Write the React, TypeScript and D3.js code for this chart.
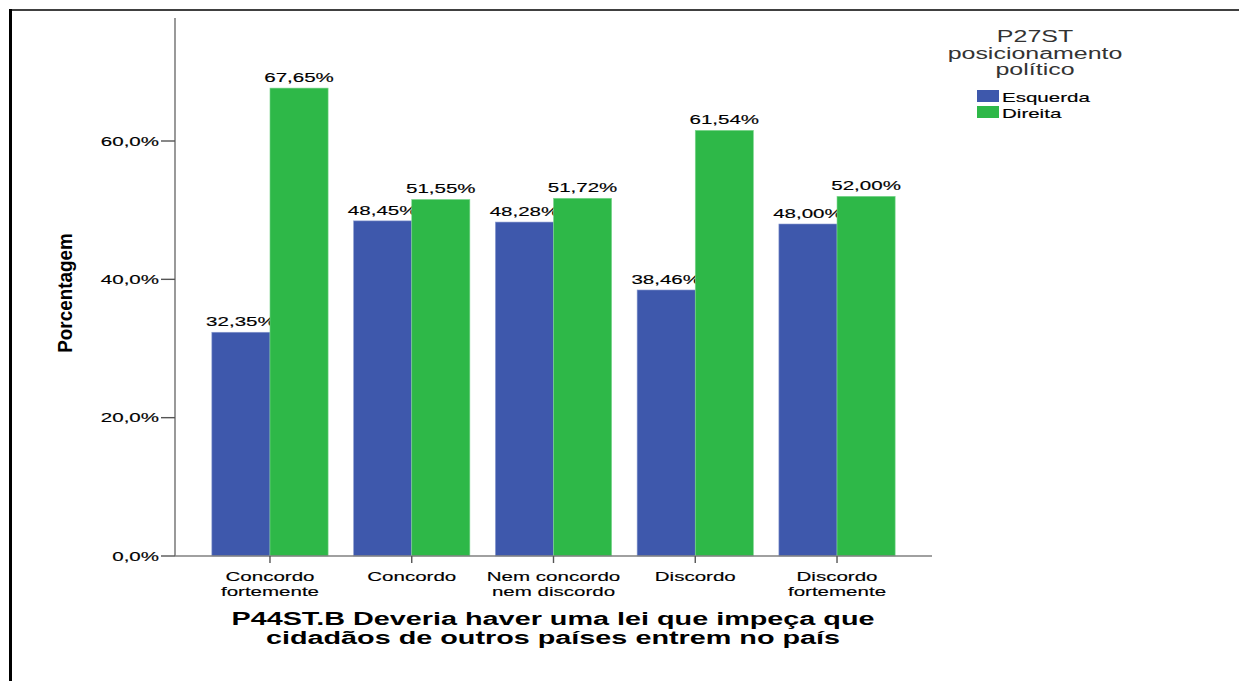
import React from "react";
import * as d3 from "d3";

const categories = [
  ["Concordo", "fortemente"],
  ["Concordo"],
  ["Nem concordo", "nem discordo"],
  ["Discordo"],
  ["Discordo", "fortemente"],
];
const seriesNames = ["Esquerda", "Direita"];
const esquerda = [32.35, 48.45, 48.28, 38.46, 48.0];
const direita = [67.65, 51.55, 51.72, 61.54, 52.0];
const yTicks = [0, 20, 40, 60];
const colors = ["#3E58AC", "#2EB848"];
const legendTitle = ["P27ST", "posicionamento", "político"];
const xTitle = [
  "P44ST.B Deveria haver uma lei que impeça que",
  "cidadãos de outros países entrem no país",
];
const yTitle = "Porcentagem";

const W = 1239;
const H = 681;
const SX = 1.58;
const FONT = "'Liberation Sans', Arial, sans-serif";

function SText({ x, y, sx = SX, children, ...rest }: any) {
  return (
    <text transform={`translate(${x},${y}) scale(${sx},1)`} fontFamily={FONT} {...rest}>
      {children}
    </text>
  );
}

const fmt = (v: number) => v.toFixed(2).replace(".", ",") + "%";
const fmtTick = (v: number) => v.toFixed(1).replace(".", ",") + "%";

export default function App() {
  const x0 = 175;
  const x1 = 932;
  const yBase = 556;
  const yTop = 18;
  const y = d3.scaleLinear().domain([0, 60]).range([yBase, 141]);
  const xIdx = d3.range(categories.length).map(String);
  const xb = d3
    .scaleBand<string>()
    .domain(xIdx)
    .range([x0, x1])
    .paddingInner(0.18)
    .paddingOuter(0.26);
  const xs = d3
    .scaleBand<string>()
    .domain(seriesNames)
    .range([0, xb.bandwidth()]);
  const series = [esquerda, direita];

  return (
    <svg width={W} height={H} style={{ position: "absolute", left: 0, top: 0, background: "#fff" }}>
      <rect x={0} y={0} width={W} height={H} fill="#fff" />
      {/* frame */}
      <line x1={10.5} y1={9} x2={10.5} y2={H} stroke="#000" strokeWidth={3} />
      <line x1={9} y1={10} x2={W} y2={10} stroke="#000" strokeWidth={1.5} />

      {/* bars */}
      {series.map((vals, si) =>
        vals.map((v, i) => {
          const bx = (xb(String(i)) as number) + (xs(seriesNames[si]) as number);
          const bw = xs.bandwidth();
          return (
            <g key={`${si}-${i}`}>
              <rect
                x={bx}
                y={y(v)}
                width={bw}
                height={yBase - y(v)}
                fill={colors[si]}
                stroke={si === 1 ? "#7fd690" : "#8a9bd0"}
                strokeWidth={0.6}
              />
              <SText
                x={bx + bw / 2}
                y={y(v) - 6}
                textAnchor="middle"
                fontSize={13}
                fill="#000"
                stroke="#000"
                strokeWidth={0.15}
              >
                {fmt(v)}
              </SText>
            </g>
          );
        })
      )}

      {/* y axis */}
      <line x1={x0} y1={yTop} x2={x0} y2={yBase} stroke="#808080" strokeWidth={1.6} />
      {yTicks.map((t) => (
        <g key={t}>
          <line x1={x0 - 14} y1={y(t)} x2={x0} y2={y(t)} stroke="#555" strokeWidth={1.4} />
          <SText x={x0 - 16} y={y(t) + 4.5} textAnchor="end" fontSize={13} fill="#000" stroke="#000" strokeWidth={0.15}>
            {fmtTick(t)}
          </SText>
        </g>
      ))}

      {/* x axis */}
      <line x1={x0} y1={yBase} x2={x1} y2={yBase} stroke="#808080" strokeWidth={1.6} />
      {categories.map((lines, i) => {
        const cx = (xb(String(i)) as number) + xb.bandwidth() / 2;
        return (
          <g key={i}>
            <line x1={cx} y1={yBase} x2={cx} y2={yBase + 7} stroke="#555" strokeWidth={1.4} />
            {lines.map((l, li) => (
              <SText key={li} x={cx} y={581 + li * 15} textAnchor="middle" fontSize={13} fill="#000" stroke="#000" strokeWidth={0.15}>
                {l}
              </SText>
            ))}
          </g>
        );
      })}

      {/* x title */}
      {xTitle.map((l, li) => (
        <SText
          key={li}
          x={553}
          y={625 + li * 19}
          sx={1.6}
          textAnchor="middle"
          fontSize={18}
          fontWeight="bold"
          fill="#000"
        >
          {l}
        </SText>
      ))}

      {/* y title */}
      <text
        transform="translate(72,293) rotate(-90) scale(1.18,1.3)"
        textAnchor="middle"
        fontFamily={FONT}
        fontSize={16}
        fontWeight="bold"
        fill="#000"
      >
        {yTitle}
      </text>

      {/* legend */}
      {legendTitle.map((l, li) => (
        <SText key={li} x={1035} y={42 + li * 16.5} textAnchor="middle" fontSize={16} sx={1.56} fill="#333">
          {l}
        </SText>
      ))}
      {seriesNames.map((n, si) => (
        <g key={n}>
          <rect x={977} y={90 + si * 16} width={22} height={12} fill={colors[si]} />
          <SText x={1002} y={102 + si * 16} fontSize={13} fill="#000" stroke="#000" strokeWidth={0.15}>
            {n}
          </SText>
        </g>
      ))}
    </svg>
  );
}
